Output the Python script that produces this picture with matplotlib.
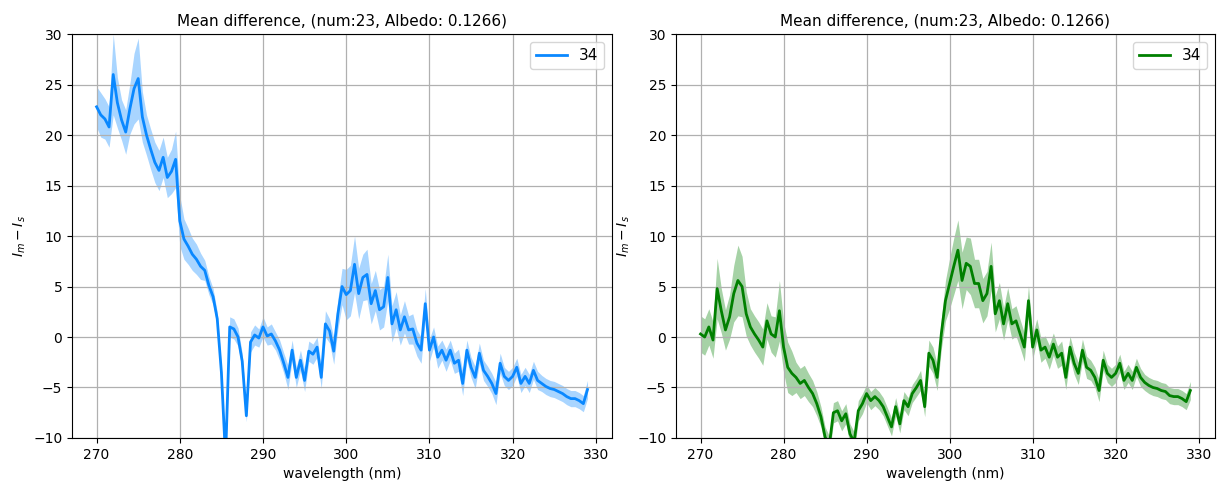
import numpy as np
import matplotlib
matplotlib.use('Agg')
import matplotlib.pyplot as plt

# wavelength grid (nm), 0.5 nm step
wl = np.arange(270.0, 329.01, 0.5)

# left panel: mean difference (blue)
mean_left = [
    22.8, 22.0, 21.6, 20.8, 26.0, 23.2, 21.5, 20.3, 22.6, 24.6,   # 270.0 - 274.5
    25.6, 21.8, 20.0, 18.6, 17.3, 16.5, 17.8, 15.8, 16.4, 17.6,   # 275.0 - 279.5
    11.5, 9.7, 9.0, 8.2, 7.7, 7.0, 6.6, 5.1, 4.0, 1.8,            # 280.0 - 284.5
    -3.5, -12.0, 1.0, 0.8, 0.0, -2.4, -7.8, -0.5, 0.2, -0.1,      # 285.0 - 289.5
    1.0, 0.1, 0.3, -0.4, -1.3, -2.6, -4.0, -1.3, -4.0, -2.3,      # 290.0 - 294.5
    -4.3, -1.4, -1.7, -1.0, -4.0, 1.3, 0.6, -1.4, 2.3, 5.0,       # 295.0 - 299.5
    4.2, 4.6, 7.2, 4.3, 5.9, 6.2, 3.3, 4.6, 2.7, 3.0,             # 300.0 - 304.5
    5.9, 1.3, 2.7, 0.7, 2.0, 0.7, 0.8, -0.6, -1.3, 3.3,           # 305.0 - 309.5
    -1.3, 0.0, -2.0, -1.3, -2.3, -1.3, -2.6, -2.3, -4.6, -1.3,    # 310.0 - 314.5
    -3.0, -4.0, -1.6, -3.3, -3.9, -4.6, -5.6, -2.6, -3.9, -4.3,   # 315.0 - 319.5
    -3.9, -3.0, -4.6, -3.9, -4.6, -3.3, -4.3, -4.6, -4.9, -5.1,   # 320.0 - 324.5
    -5.2, -5.4, -5.6, -5.9, -6.1, -6.1, -6.3, -6.6, -5.2,         # 325.0 - 329.0
]
std_left = [
    2.0, 2.2, 2.0, 2.0, 4.0, 2.5, 2.0, 2.2, 2.5, 3.5,
    4.0, 2.5, 2.0, 2.0, 2.0, 2.0, 2.0, 2.0, 2.2, 2.8,
    2.5, 2.0, 1.8, 1.6, 1.5, 1.3, 1.0, 0.9, 0.8, 0.7,
    0.5, 0.5, 1.0, 1.0, 0.9, 0.8, 0.6, 1.0, 1.0, 0.9,
    1.0, 0.9, 1.0, 0.9, 1.0, 1.0, 1.2, 1.0, 1.0, 1.0,
    1.1, 1.0, 1.0, 1.0, 1.1, 1.3, 1.2, 1.3, 1.5, 1.8,
    2.5, 2.5, 2.8, 2.5, 2.3, 2.5, 2.0, 2.0, 2.0, 2.0,
    2.3, 1.8, 1.8, 1.5, 1.6, 1.4, 1.5, 1.3, 1.3, 1.5,
    1.1, 1.0, 1.1, 1.0, 1.1, 1.0, 1.0, 1.1, 1.2, 1.0,
    1.0, 1.1, 1.0, 1.0, 1.0, 1.0, 1.1, 1.0, 0.9, 0.9,
    0.9, 0.9, 0.9, 0.9, 0.9, 0.9, 0.9, 0.8, 0.8, 0.8,
    0.8, 0.8, 0.8, 0.8, 0.8, 0.8, 0.8, 0.8, 0.9,
]

# right panel: mean difference (green)
mean_right = [
    0.3, 0.0, 1.0, -0.3, 4.8, 2.6, 0.7, 2.0, 4.3, 5.6,
    5.0, 2.3, 1.0, 0.3, -0.3, -1.0, 1.6, 0.3, 0.0, 2.6,
    -1.0, -3.0, -3.6, -4.0, -4.6, -4.3, -5.0, -5.6, -6.6, -7.9,
    -9.9, -10.8, -7.5, -7.3, -8.3, -7.6, -9.6, -10.4, -7.3, -6.6,
    -5.6, -6.3, -5.9, -6.3, -6.9, -7.9, -8.9, -6.9, -8.6, -6.3,
    -6.9, -5.6, -5.0, -4.3, -6.9, -1.6, -2.3, -4.0, 0.3, 3.6,
    5.3, 7.0, 8.6, 5.6, 7.3, 7.0, 5.3, 5.3, 3.6, 4.3,
    7.0, 2.3, 3.6, 1.3, 3.3, 1.3, 1.6, 0.3, -1.0, 3.6,
    -1.0, 0.7, -1.3, -1.0, -2.0, -0.7, -2.0, -1.6, -4.0, -1.0,
    -2.6, -3.6, -1.3, -3.0, -3.3, -4.0, -5.3, -2.3, -3.6, -4.0,
    -3.6, -2.6, -4.3, -3.6, -4.3, -3.0, -4.0, -4.5, -4.8, -5.0,
    -5.1, -5.3, -5.4, -5.8, -5.9, -5.9, -6.1, -6.4, -5.3,
]
std_right = [
    1.8, 1.8, 1.8, 1.8, 3.0, 2.2, 2.0, 2.2, 2.8, 3.5,
    3.0, 2.2, 1.8, 1.8, 1.8, 1.8, 1.8, 1.8, 2.0, 3.0,
    2.5, 2.5, 2.2, 1.5, 1.5, 1.5, 1.4, 1.3, 1.2, 1.0,
    1.0, 1.0, 1.0, 1.0, 1.0, 1.0, 1.0, 1.0, 1.0, 1.0,
    0.9, 0.9, 0.9, 0.9, 0.9, 0.9, 0.9, 0.9, 0.9, 0.9,
    0.9, 0.9, 0.9, 1.0, 1.0, 1.3, 1.3, 1.3, 1.5, 2.0,
    2.5, 2.8, 3.0, 2.8, 2.6, 2.8, 2.4, 2.4, 2.2, 2.2,
    2.4, 1.8, 1.8, 1.6, 1.6, 1.5, 1.5, 1.4, 1.4, 1.5,
    1.2, 1.1, 1.2, 1.1, 1.2, 1.1, 1.1, 1.2, 1.2, 1.1,
    1.1, 1.1, 1.1, 1.1, 1.0, 1.0, 1.1, 1.0, 0.9, 0.9,
    0.9, 0.9, 0.9, 0.9, 0.9, 0.9, 0.9, 0.8, 0.8, 0.8,
    0.8, 0.8, 0.8, 0.8, 0.8, 0.8, 0.8, 0.8, 0.9,
]

title = 'Mean difference, (num:23, Albedo: 0.1266)'
label = '34'

panels = [
    (mean_left, std_left, '#0a88ff'),
    (mean_right, std_right, 'green'),
]

fig = plt.figure(figsize=(12.19, 4.86), dpi=100)
positions = [[0.0591, 0.0988, 0.443, 0.831], [0.5546, 0.0988, 0.442, 0.831]]

for pos, (m, s, col) in zip(positions, panels):
    m = np.array(m)
    s = np.array(s)
    ax = fig.add_axes(pos)
    ax.fill_between(wl, m - s, m + s, color=col, alpha=0.35, linewidth=0)
    ax.plot(wl, m, color=col, linewidth=2.0, label=label)
    ax.set_ylim(-10, 30)
    ax.set_xticks([270, 280, 290, 300, 310, 320, 330])
    ax.grid(True, color='#b0b0b0', linewidth=0.9)
    ax.set_title(title, fontsize=11)
    ax.set_xlabel('wavelength (nm)', fontsize=10)
    ax.set_ylabel('$I_m - I_s$', fontsize=10)
    ax.tick_params(labelsize=10)
    ax.legend(loc='upper right', fontsize=11)

fig.savefig('out.png', dpi=100)
